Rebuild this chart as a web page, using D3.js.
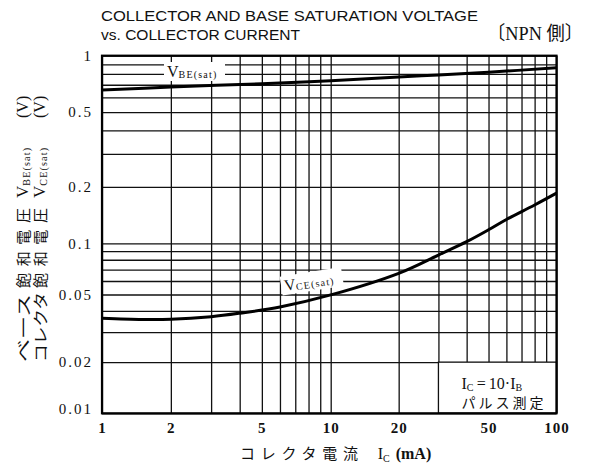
<!DOCTYPE html>
<html>
<head>
<meta charset="utf-8">
<script src="https://cdn.jsdelivr.net/npm/d3@7"></script>
<style>
  body { margin: 0; background: #fff; }
  svg { display: block; }
  .grid line { stroke: #111; stroke-width: 1.3; }
  .grid .domain { display: none; }
  .grid text { fill: #111; font-family: "Liberation Serif", serif; }
  .jp { font-family: "Noto Sans CJK JP", sans-serif; fill: #111; }
  .serif { font-family: "Liberation Serif", serif; fill: #111; }
</style>
</head>
<body>
<div id="chart"></div>
<script>
// collector current (mA) and saturation voltages (V)
var vbeCurrent = [1, 2, 5, 10, 20, 30, 50, 100];
var vbeVolts = [0.656, 0.681, 0.709, 0.736, 0.77, 0.789, 0.816, 0.863];
var vceCurrent = [1, 1.5, 2, 3, 4, 6, 10, 20, 30, 40, 50, 60, 80, 100];
var vceVolts = [0.0362, 0.0356, 0.0357, 0.037, 0.0388, 0.0422, 0.0497, 0.0666,
                0.0853, 0.102, 0.118, 0.134, 0.160, 0.185];

var xLabels = [1, 2, 5, 10, 20, 50, 100];
var yLabels = [1, 0.5, 0.2, 0.1, 0.05, 0.02, 0.01];
var xGrid = [1, 2, 3, 4, 5, 6, 7, 8, 9, 10, 20, 30, 40, 50, 60, 70, 80, 90, 100];
var yGrid = [0.01, 0.02, 0.03, 0.04, 0.05, 0.06, 0.07, 0.08, 0.09,
             0.1, 0.2, 0.3, 0.4, 0.5, 0.6, 0.7, 0.8, 0.9, 1];

var W = 593, H = 468;
var plotL = 102, plotR = 556.5, plotT = 55.7, plotB = 413.3;

var svg = d3.select('#chart')
    .append('svg')
    .attr('width', W)
    .attr('height', H);

// the scanned paper is not quite even, so each decade gets its own stretch
var x = d3.scaleLog().domain([1, 10, 100]).range([plotL, 330.7, plotR]);
var y = d3.scaleLog().domain([0.01, 0.1, 1]).range([plotB, 243.3, plotT]);

// title
svg.append('text')
    .attr('x', 101).attr('y', 21)
    .attr('textLength', 377).attr('lengthAdjust', 'spacingAndGlyphs')
    .style('font-family', '"Liberation Sans", sans-serif')
    .style('font-size', '15.5px').style('fill', '#111')
    .text('COLLECTOR AND BASE SATURATION VOLTAGE');
svg.append('text')
    .attr('x', 101).attr('y', 40)
    .attr('textLength', 199).attr('lengthAdjust', 'spacingAndGlyphs')
    .style('font-family', '"Liberation Sans", sans-serif')
    .style('font-size', '15.5px').style('fill', '#111')
    .text('vs. COLLECTOR CURRENT');
svg.append('text')
    .attr('x', 487).attr('y', 40)
    .attr('textLength', 96).attr('lengthAdjust', 'spacingAndGlyphs')
    .style('font-family', '"Liberation Serif", "Noto Sans CJK JP", serif')
    .style('font-size', '19px').style('fill', '#111')
    .text('〔NPN 側〕');

// grid through the axes
var gx = svg.append('g')
    .attr('class', 'grid')
    .attr('transform', 'translate(0,' + plotB + ')')
    .call(d3.axisBottom(x)
      .tickValues(xGrid)
      .tickSize(-(plotB - plotT))
      .tickPadding(9)
      .tickFormat(function (d) { return xLabels.indexOf(d) >= 0 ? d : ''; }));
gx.selectAll('text')
    .style('font-size', '15px')
    .style('font-weight', 'bold')
    .style('letter-spacing', '1px');

var gy = svg.append('g')
    .attr('class', 'grid')
    .attr('transform', 'translate(' + plotL + ',0)')
    .call(d3.axisLeft(y)
      .tickValues(yGrid)
      .tickSize(-(plotR - plotL))
      .tickPadding(9)
      .tickFormat(function (d) { return yLabels.indexOf(d) >= 0 ? d : ''; }));
gy.selectAll('text')
    .style('font-size', '15px')
    .style('letter-spacing', '2px');
gy.selectAll('.tick')
    .filter(function (d) { return d === 0.01; })
    .select('text').attr('dy', '0.0em');

// note box in the lower right corner
var note = svg.append('g');
note.append('rect')
    .attr('x', x(30))
    .attr('y', y(0.02))
    .attr('width', x(100) - x(30))
    .attr('height', y(0.01) - y(0.02))
    .attr('fill', '#fff')
    .attr('stroke', '#111')
    .attr('stroke-width', 1.3);
var noteLine = note.append('text')
    .attr('class', 'serif')
    .attr('x', x(30) + 23).attr('y', y(0.02) + 27)
    .style('font-size', '16px');
noteLine.append('tspan').text('I');
noteLine.append('tspan').attr('dy', 2).style('font-size', '10px').text('C');
noteLine.append('tspan').attr('dy', -2).text('\u2009=\u200910\u00b7I');
noteLine.append('tspan').attr('dy', 2).style('font-size', '10px').text('B');
note.append('text')
    .attr('class', 'jp')
    .attr('x', x(30) + 23).attr('y', y(0.02) + 46)
    .attr('textLength', 82)
    .style('font-size', '14px')
    .text('パルス測定');

// curves
var line = d3.line()
    .x(function (d) { return x(d[0]); })
    .y(function (d) { return y(d[1]); })
    .curve(d3.curveCatmullRom.alpha(0.5));

var curves = svg.append('g')
    .selectAll('path')
    .data([d3.zip(vbeCurrent, vbeVolts), d3.zip(vceCurrent, vceVolts)])
    .enter()
    .append('path')
    .attr('d', line)
    .attr('fill', 'none')
    .attr('stroke', '#000')
    .attr('stroke-width', 3);

// frame
svg.append('rect')
    .attr('x', plotL).attr('y', plotT)
    .attr('width', plotR - plotL).attr('height', plotB - plotT)
    .attr('fill', 'none')
    .attr('stroke', '#000')
    .attr('stroke-width', 2.2);

// curve labels
function curveLabel(px, py, angle, sub, bgw) {
  var g = svg.append('g')
      .attr('transform', 'translate(' + px + ',' + py + ') rotate(' + angle + ')');
  g.append('rect')
      .attr('x', -3).attr('y', -15)
      .attr('width', bgw).attr('height', 19)
      .attr('fill', '#fff');
  var t = g.append('text')
      .attr('class', 'serif')
      .style('font-size', '16px');
  t.append('tspan').text('V');
  t.append('tspan')
      .attr('dy', 1)
      .style('font-size', '10px')
      .style('letter-spacing', '1.2px')
      .text(sub);
}
curveLabel(167, 77, 0, 'BE(sat)', 61);
curveLabel(285, 291, -9, 'CE(sat)', 62);

// y axis title, two rotated columns
function yTitle(cx, kana, kanaLen, sub) {
  var g = svg.append('g')
      .attr('transform', 'translate(' + cx + ',0) rotate(-90)');
  g.append('text')
      .attr('class', 'jp')
      .attr('x', -362).attr('y', 0)
      .attr('textLength', kanaLen)
      .attr('lengthAdjust', 'spacingAndGlyphs')
      .style('font-size', '15px')
      .text(kana);
  g.append('text')
      .attr('class', 'jp')
      .attr('x', -288).attr('y', 0)
      .attr('textLength', 80)
      .style('font-size', '15px')
      .text('飽和電圧');
  var t = g.append('text')
      .attr('class', 'serif')
      .attr('x', -198).attr('y', -1)
      .style('font-size', '17px');
  t.append('tspan').text('V');
  t.append('tspan')
      .attr('dy', 2)
      .style('font-size', '10px')
      .style('letter-spacing', '1.2px')
      .text(sub);
  g.append('text')
      .attr('class', 'serif')
      .attr('x', -118).attr('y', -1)
      .style('font-size', '16px')
      .text('(V)');
}
yTitle(29, 'ベース', 68, 'BE(sat)');
yTitle(46, 'コレクタ', 70, 'CE(sat)');

// x axis title
var xt = svg.append('text')
    .attr('x', 240).attr('y', 459)
    .style('font-size', '15px');
xt.append('tspan').attr('class', 'jp')
    .attr('textLength', 118)
    .text('コレクタ電流');
xt.append('tspan').attr('class', 'serif').attr('dx', 14)
    .style('font-size', '16px').text('I');
xt.append('tspan').attr('class', 'serif').attr('dy', 3)
    .style('font-size', '10px').text('C');
xt.append('tspan').attr('class', 'serif').attr('dy', -3).attr('dx', 6)
    .style('font-size', '16px').style('font-weight', 'bold').text('(mA)');
</script>
</body>
</html>
